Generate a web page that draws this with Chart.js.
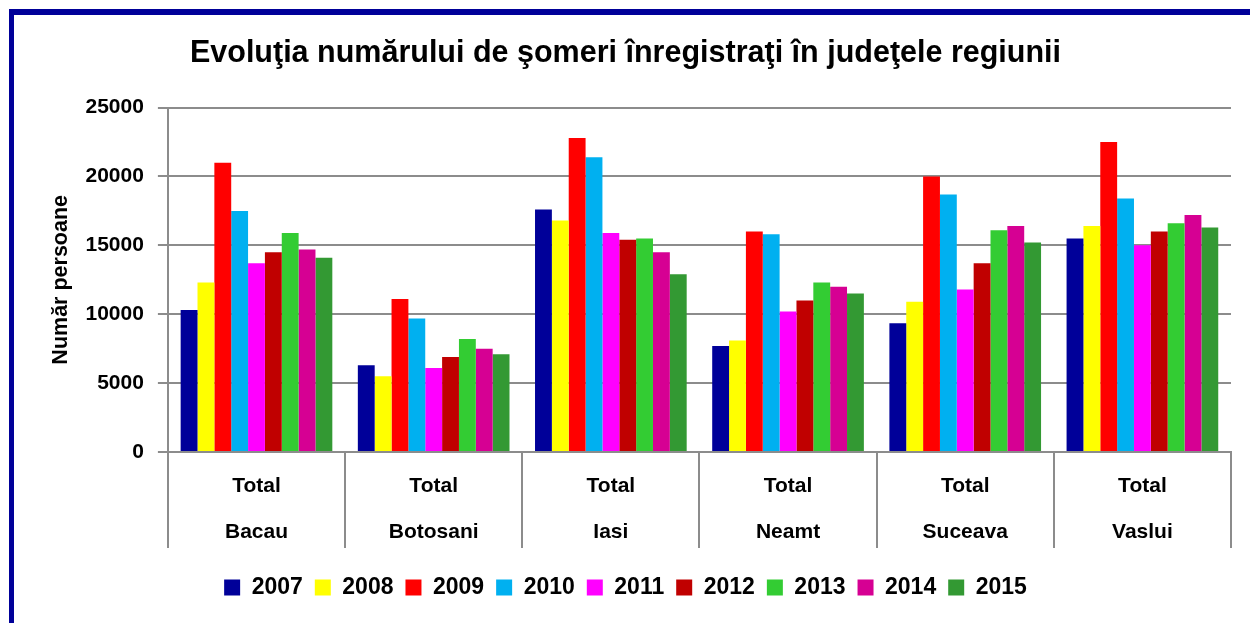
<!DOCTYPE html>
<html>
<head>
<meta charset="utf-8">
<script src="https://cdn.jsdelivr.net/npm/chart.js@4"></script>
<style>
  html, body { margin: 0; padding: 0; background: #fff; overflow: hidden; }
  #frame {
    position: absolute; left: 9px; top: 9px; width: 1300px; height: 700px;
    border-left: 5px solid #000099; border-top: 6px solid #000099;
  }
  #wrap { position: absolute; left: 0; top: 0; width: 1250px; height: 623px; }
</style>
</head>
<body>
<div id="frame"></div>
<div id="wrap"><canvas id="chart"></canvas></div>
<script>
// === Data ===
const counties = ["Bacau", "Botosani", "Iasi", "Neamt", "Suceava", "Vaslui"];
const years = ["2007", "2008", "2009", "2010", "2011", "2012", "2013", "2014", "2015"];

const v2007 = [10300, 6300, 17600, 7700, 9350, 15500];
const v2008 = [12300, 5500, 16800, 8100, 10900, 16400];
const v2009 = [21000, 11100, 22800, 16000, 20000, 22500];
const v2010 = [17500, 9700, 21400, 15800, 18700, 18400];
const v2011 = [13700, 6100, 15900, 10200, 11800, 15000];
const v2012 = [14500, 6900, 15400, 11000, 13700, 16000];
const v2013 = [15900, 8200, 15500, 12300, 16100, 16600];
const v2014 = [14700, 7500, 14500, 12000, 16400, 17200];
const v2015 = [14100, 7100, 12900, 11500, 15200, 16300];

const series = [v2007, v2008, v2009, v2010, v2011, v2012, v2013, v2014, v2015];
const colors = ["#000099", "#FFFF00", "#FF0000", "#00B0F0", "#FF00FF",
                "#C00000", "#33CC33", "#D60093", "#339933"];

const yTicks = [0, 5000, 10000, 15000, 20000, 25000];

// === Styling ===
const FONT = '"Liberation Sans", Arial, sans-serif';
const GRID = "#8c8c8c";

const datasets = years.map((y, i) => ({
  label: y,
  data: series[i],
  backgroundColor: colors[i],
  borderWidth: 0,
  barPercentage: 1,
  categoryPercentage: 0.856,
}));

new Chart(document.getElementById("chart"), {
  type: "bar",
  data: {
    labels: counties.map(c => ["Total", c]),
    datasets,
  },
  options: {
    responsive: true,
    maintainAspectRatio: false,
    animation: false,
    layout: { padding: { left: 20, right: 19, top: 0, bottom: 14 } },
    plugins: {
      tooltip: { enabled: false },
      title: {
        display: true,
        text: "Evoluţia numărului de şomeri înregistraţi în judeţele regiunii",
        color: "#000",
        font: { family: FONT, size: 30.5, weight: "bold", lineHeight: 1.2 },
        padding: { top: 35, bottom: 36 },
      },
      legend: {
        position: "bottom",
        // blank title only pushes the legend row down a bit
        title: { display: true, text: " ", padding: 0, font: { size: 7.5, lineHeight: 1.2 } },
        labels: {
          color: "#000",
          boxWidth: 16,
          boxHeight: 16,
          padding: 12,
          font: { family: FONT, size: 23, weight: "bold" },
        },
      },
    },
    scales: {
      x: {
        grid: {
          display: true,
          drawOnChartArea: false,
          drawTicks: true,
          tickLength: 96,
          color: GRID,
          lineWidth: 2,
        },
        border: { display: true, color: GRID, width: 2 },
        ticks: {
          color: "#000",
          padding: -85,
          autoSkip: false,
          maxRotation: 0,
          font: { family: FONT, size: 21, weight: "bold", lineHeight: 2.19 },
        },
        // empty title reserves the height eaten by the negative tick padding
        title: { display: true, text: " ", padding: 0, font: { size: 85, lineHeight: 1 } },
      },
      y: {
        min: 0,
        max: 25000,
        afterBuildTicks: (scale) => { scale.ticks = yTicks.map(v => ({ value: v })); },
        grid: { color: GRID, lineWidth: 2, tickLength: 10 },
        border: { display: true, color: GRID, width: 2 },
        ticks: {
          color: "#000",
          padding: 14,
          callback: (v) => String(v),
          font: { family: FONT, size: 21, weight: "bold" },
        },
        title: {
          display: true,
          text: "Număr persoane",
          color: "#000",
          font: { family: FONT, size: 21.5, weight: "bold", lineHeight: 1 },
          padding: { top: 30, bottom: 0 },
        },
      },
    },
  },
});
</script>
</body>
</html>
